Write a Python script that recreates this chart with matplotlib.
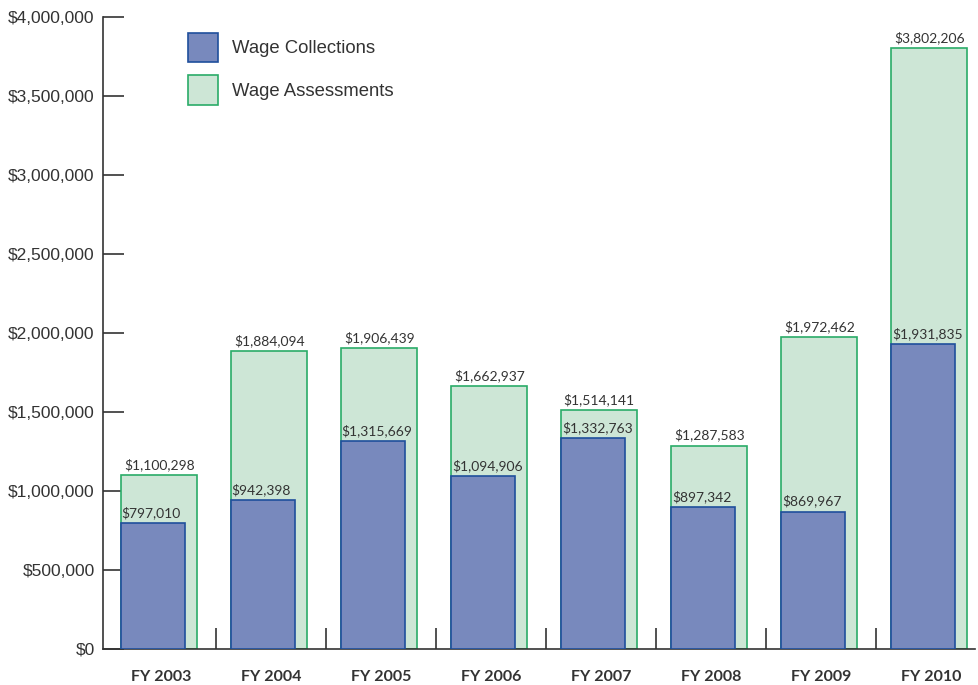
import matplotlib
matplotlib.use("Agg")
import matplotlib.pyplot as plt
from matplotlib.patches import Patch
from matplotlib.ticker import FuncFormatter
import numpy as np

years = ["FY 2003", "FY 2004", "FY 2005", "FY 2006", "FY 2007", "FY 2008", "FY 2009", "FY 2010"]
collections = [797010, 942398, 1315669, 1094906, 1332763, 897342, 869967, 1931835]
assessments = [1100298, 1884094, 1906439, 1662937, 1514141, 1287583, 1972462, 3802206]

blue_fill, blue_edge = "#7889bd", "#1f4f9c"
green_fill, green_edge = "#cde6d6", "#2aac68"
text_col = "#333333"

fig = plt.figure(figsize=(9.79, 6.85), dpi=100)
ax = fig.add_axes([103 / 979, 1 - 649 / 685, (975 - 103) / 979, (649 - 17) / 685])

x = np.arange(len(years))
left = x - 0.36
w_green = 0.69
w_blue = 0.58

ax.bar(left, assessments, width=w_green, align="edge", color=green_fill,
       edgecolor=green_edge, linewidth=1.2, zorder=2)
ax.bar(left, collections, width=w_blue, align="edge", color=blue_fill,
       edgecolor=blue_edge, linewidth=1.2, zorder=3)

lab_font = dict(family=["Lato", "DejaVu Sans"], fontsize=10, color=text_col)
for xi, a, c in zip(left, assessments, collections):
    ax.text(xi + w_green / 2, a + 25000, f"${a:,}", ha="center", va="bottom", zorder=4, **lab_font)
    ax.text(xi + 0.005, c + 25000, f"${c:,}", ha="left", va="bottom", zorder=4, **lab_font)

ax.set_xlim(-0.525, 7.4)
ax.set_ylim(0, 4000000)

for s in ["top", "right"]:
    ax.spines[s].set_visible(False)
for s in ["left", "bottom"]:
    ax.spines[s].set_color("#333333")
    ax.spines[s].set_linewidth(1.2)

ax.set_yticks(np.arange(0, 4000001, 500000))
ax.yaxis.set_major_formatter(FuncFormatter(lambda v, p: f"${int(v):,}"))
ax.tick_params(axis="y", direction="in", length=15, width=1.2, color="#333333",
               labelsize=12.5, labelcolor=text_col, pad=6)
for t in ax.get_yticklabels():
    t.set_family(["Liberation Sans", "DejaVu Sans"])

# category boundary ticks along the base line
ax.set_xticks(x[:-1] + 0.5)
ax.set_xticklabels([])
ax.tick_params(axis="x", direction="in", length=15, width=1.2, color="#333333")
for xi, name in zip(x, years):
    ax.text(xi, -0.033, name, transform=ax.get_xaxis_transform(), ha="center", va="top",
            fontsize=11.5, fontweight="bold", color=text_col, family=["Lato", "DejaVu Sans"])

handles = [Patch(facecolor=blue_fill, edgecolor=blue_edge, linewidth=1.2),
           Patch(facecolor=green_fill, edgecolor=green_edge, linewidth=1.2)]
leg = ax.legend(handles, ["Wage Collections", "Wage Assessments"], loc="upper left",
                bbox_to_anchor=(0.078, 1.001), frameon=False,
                handlelength=1.62, handleheight=2.05, labelspacing=0.72, handletextpad=0.8,
                prop={"family": ["Liberation Sans", "DejaVu Sans"], "size": 13.3})
for t in leg.get_texts():
    t.set_color(text_col)

fig.savefig("out.png", dpi=100)
